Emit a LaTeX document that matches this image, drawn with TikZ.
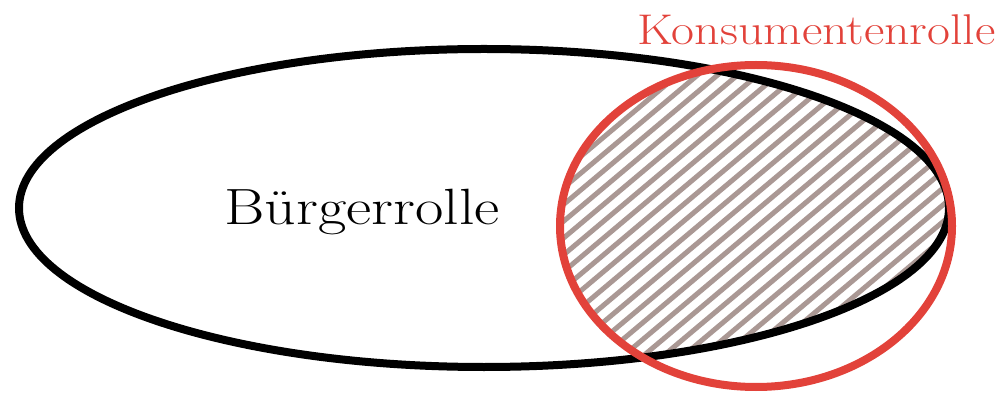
\documentclass[tikz,border=0pt]{standalone}
\definecolor{konsred}{RGB}{226,66,58}
\definecolor{hatchc}{RGB}{170,152,148}
\tikzset{
  roleline/.style={line width=8pt},
  hatchline/.style={hatchc, line width=5pt},
  bigtext/.style={inner sep=0pt, font=\fontsize{51}{60}\selectfont},
  redtext/.style={inner sep=0pt, text=konsred, font=\fontsize{43}{50}\selectfont}
}
\begin{document}
\begin{tikzpicture}[x=1pt,y=1pt]
\useasboundingbox (0,0) rectangle (998,399);
% hatched intersection
\begin{scope}
  \clip (484,191) ellipse [x radius=465, y radius=159];
  \clip (756,173) ellipse [x radius=196, y radius=161];
  \foreach \i in {0,...,48} {
    \draw[hatchline] (80+20*\i,-10) -- ++(487,409);
  }
\end{scope}
% Buergerrolle ellipse
\draw[roleline, black] (484,191) ellipse [x radius=465, y radius=159];
% Konsumentenrolle ellipse
\draw[roleline, konsred] (756,173) ellipse [x radius=196, y radius=161];
\node[bigtext, anchor=base] (buerger) at (362,174) {\scalebox{1.21}[1]{Bürgerrolle}};
\node[redtext, anchor=base west] (konsum) at (637,354) {\scalebox{1.16}[1]{Konsumentenrolle}};
\end{tikzpicture}
\end{document}
